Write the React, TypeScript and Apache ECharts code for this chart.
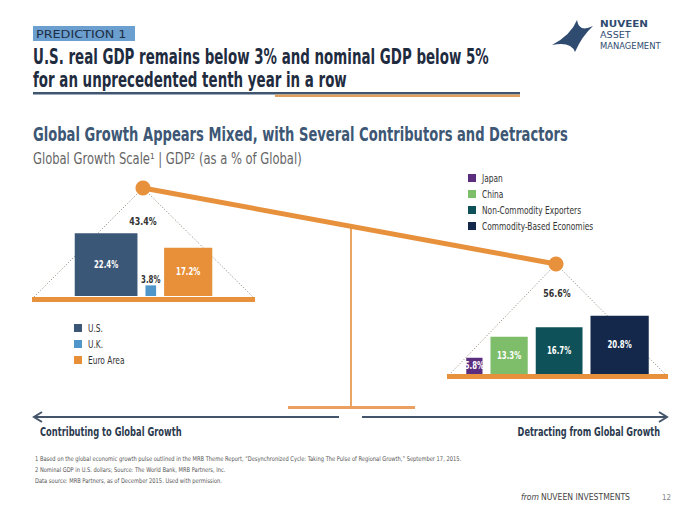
import React, { useEffect, useRef } from "react";
import * as echarts from "echarts";

const leftCategories = ["U.S.", "U.K.", "Euro Area"];
const leftValues = [22.4, 3.8, 17.2];
const leftColors = ["#3B5777", "#4F97CB", "#E88F3A"];

const rightCategories = ["Japan", "China", "Non-Commodity Exporters", "Commodity-Based Economies"];
const rightValues = [5.8, 13.3, 16.7, 20.8];
const rightColors = ["#5A2D7E", "#7EBE6A", "#0E5158", "#13284A"];

const footnotes = [
  "1 Based on the global economic growth pulse outlined in the MRB Theme Report, \u201cDesynchronized Cycle: Taking The Pulse of Regional Growth,\u201d September 17, 2015.",
  "2 Nominal GDP in U.S. dollars; Source: The World Bank, MRB Partners, Inc.",
  "Data source: MRB Partners, as of December 2015. Used with permission.",
];

const COND = "'DejaVu Sans', sans-serif";
const ORANGE = "#E8913C";

const LOGO_D = "M25 0 Q27 13 41 6 Q30 16 23 32 Q19 21 0 25 Q19 15 25 0 Z";
echarts.graphic.registerShape("logo", echarts.graphic.extendPath(LOGO_D, {}) as any);

function sum(a: number[]) {
  return a.reduce((s, v) => s + v, 0);
}

function txt(text: string, x: number, y: number, o: any = {}) {
  return {
    type: "text",
    x,
    y,
    scaleX: o.sx ?? 1,
    style: {
      text,
      x: 0,
      y: 0,
      align: o.align ?? "left",
      verticalAlign: "middle",
      fill: o.fill ?? "#333",
      fontSize: o.size ?? 11,
      fontWeight: o.weight ?? "normal",
      fontStyle: o.style ?? "normal",
      fontFamily: COND,
    },
  };
}

function makeRenderItem(values: number[], colors: string[]) {
  return (params: any, api: any) => {
    const i = params.dataIndex;
    const cs = params.coordSys;
    const sizes = values.map((v) => api.size([0, v])[1]);
    const gap = 8;
    const total = sum(sizes) + gap * (values.length - 1);
    let x = cs.x + cs.width / 2 - total / 2;
    for (let k = 0; k < i; k++) x += sizes[k] + gap;
    const s = api.size([0, api.value(1)])[1];
    const bottom = cs.y + cs.height;
    const small = s < 14;
    return {
      type: "group",
      children: [
        {
          type: "rect",
          shape: { x, y: bottom - s, width: s, height: s },
          style: { fill: colors[i] },
        },
        {
          type: "text",
          x: x + s / 2,
          y: small ? bottom - s - 1 : bottom - s / 2,
          scaleX: 0.7,
          style: {
            text: values[i].toFixed(1) + "%",
            x: 0,
            y: 0,
            align: "center",
            verticalAlign: small ? "bottom" : "middle",
            fill: small ? "#333" : "#fff",
            fontSize: 10,
            fontWeight: "bold",
            fontFamily: COND,
          },
        },
      ],
    };
  };
}

function legend(cats: string[], colors: string[], x: number, y0: number, step: number) {
  const out: any[] = [];
  cats.forEach((c, i) => {
    out.push({
      type: "rect",
      shape: { x, y: y0 + i * step - 4, width: 8, height: 8 },
      style: { fill: colors[i] },
    });
    out.push(txt(c, x + 14, y0 + i * step, { size: 11, sx: 0.68, fill: "#333" }));
  });
  return out;
}

export default function App() {
  const ref = useRef<HTMLDivElement>(null);
  useEffect(() => {
    const chart = echarts.init(ref.current!, undefined, { renderer: "svg" });
    const L = { x: 143, y: 188 };
    const R = { x: 556, y: 264 };
    const poleX = 351;
    const poleTop = L.y + ((poleX - L.x) * (R.y - L.y)) / (R.x - L.x);
    const dotted = { stroke: "#8A7A66", lineWidth: 1, lineDash: [1, 2] };
    const graphic: any[] = [
      // header
      { type: "rect", shape: { x: 33, y: 26, width: 102, height: 15 }, style: { fill: "#6A9FCF" } },
      txt("PREDICTION 1", 36, 34, { size: 11, sx: 1.16, fill: "#1E2E44" }),
      txt("U.S. real GDP remains below 3% and nominal GDP below 5%", 33, 57, { size: 20.5, weight: "bold", sx: 0.655, fill: "#1F2C40" }),
      txt("for an unprecedented tenth year in a row", 33, 80, { size: 20.5, weight: "bold", sx: 0.655, fill: "#1F2C40" }),
      { type: "rect", shape: { x: 33, y: 92, width: 487, height: 2.5 }, style: { fill: "#3F5671" } },
      { type: "rect", shape: { x: 275, y: 94.5, width: 245, height: 2.5 }, style: { fill: "#DDA060" } },
      // logo
      { type: "logo", x: 552, y: 20, scaleX: 1, scaleY: 1, style: { fill: "#2F4B70" } },
      txt("NUVEEN", 600, 24, { size: 8, weight: "bold", sx: 1.3, fill: "#2F4B70" }),
      txt("ASSET", 600, 35, { size: 8, sx: 1.2, fill: "#2F4B70" }),
      txt("MANAGEMENT", 600, 46, { size: 8, sx: 1.05, fill: "#2F4B70" }),
      // section titles
      txt("Global Growth Appears Mixed, with Several Contributors and Detractors", 33, 135, { size: 19, weight: "bold", sx: 0.69, fill: "#3D5775" }),
      txt("Global Growth Scale\u00b9 | GDP\u00b2 (as a % of Global)", 33, 159, { size: 15, sx: 0.77, fill: "#666" }),
      // dotted strings
      { type: "line", shape: { x1: L.x, y1: L.y, x2: 33, y2: 298 }, style: dotted },
      { type: "line", shape: { x1: L.x, y1: L.y, x2: 254, y2: 298 }, style: dotted },
      { type: "line", shape: { x1: R.x, y1: R.y, x2: 449, y2: 375 }, style: dotted },
      { type: "line", shape: { x1: R.x, y1: R.y, x2: 666, y2: 375 }, style: dotted },
      // pole & base
      { type: "line", shape: { x1: poleX, y1: poleTop, x2: poleX, y2: 407 }, style: { stroke: "#E9A564", lineWidth: 2 } },
      { type: "line", shape: { x1: 288, y1: 407.5, x2: 415, y2: 407.5 }, style: { stroke: "#E9A060", lineWidth: 3 } },
      // beam
      { type: "line", shape: { x1: L.x, y1: L.y, x2: R.x, y2: R.y }, style: { stroke: ORANGE, lineWidth: 5 } },
      { type: "circle", shape: { cx: L.x, cy: L.y, r: 7.5 }, style: { fill: ORANGE } },
      { type: "circle", shape: { cx: R.x, cy: R.y, r: 7.5 }, style: { fill: ORANGE } },
      // pans
      { type: "rect", shape: { x: 32, y: 297, width: 223, height: 5 }, style: { fill: ORANGE } },
      { type: "rect", shape: { x: 447, y: 374, width: 221, height: 5 }, style: { fill: ORANGE } },
      // totals
      txt(sum(leftValues).toFixed(1) + "%", L.x, 221, { size: 11, weight: "bold", sx: 0.72, align: "center", fill: "#333" }),
      txt(sum(rightValues).toFixed(1) + "%", R.x + 1, 293, { size: 11, weight: "bold", sx: 0.72, align: "center", fill: "#333" }),
      // arrows
      { type: "line", shape: { x1: 35, y1: 417, x2: 339, y2: 417 }, style: { stroke: "#44546A", lineWidth: 2 } },
      { type: "polyline", shape: { points: [[42, 412], [34, 417], [42, 422]] }, style: { stroke: "#44546A", lineWidth: 2, fill: null } },
      { type: "line", shape: { x1: 362, y1: 417, x2: 666, y2: 417 }, style: { stroke: "#44546A", lineWidth: 2 } },
      { type: "polyline", shape: { points: [[659, 412], [667, 417], [659, 422]] }, style: { stroke: "#44546A", lineWidth: 2, fill: null } },
      txt("Contributing to Global Growth", 40, 432, { size: 13, weight: "bold", sx: 0.64, fill: "#2B3A4E" }),
      txt("Detracting from Global Growth", 660, 432, { size: 13, weight: "bold", sx: 0.63, align: "right", fill: "#2B3A4E" }),
      // footer
      txt("from", 521, 497, { size: 9, style: "italic", sx: 0.85, fill: "#444" }),
      txt("NUVEEN INVESTMENTS", 541, 497, { size: 9.5, sx: 0.81, fill: "#444" }),
      txt("12", 662, 497, { size: 8, sx: 0.9, fill: "#888" }),
      ...footnotes.map((t, i) => txt(t, 35, 459 + i * 11, { size: 6.5, sx: 0.79, fill: "#555" })),
      ...legend(rightCategories, rightColors, 468, 178, 16),
      ...legend(leftCategories, leftColors, 74, 328, 16),
    ];

    chart.setOption({
      animation: false,
      backgroundColor: "#fff",
      grid: [
        { left: 32, top: 184, width: 223, height: 112 },
        { left: 447, top: 262, width: 221, height: 112 },
      ],
      xAxis: [
        { type: "value", gridIndex: 0, min: 0, max: 3, show: false },
        { type: "value", gridIndex: 1, min: 0, max: 4, show: false },
      ],
      yAxis: [
        { type: "value", gridIndex: 0, min: 0, max: 40, show: false },
        { type: "value", gridIndex: 1, min: 0, max: 40, show: false },
      ],
      graphic,
      series: [
        {
          type: "custom",
          xAxisIndex: 0,
          yAxisIndex: 0,
          renderItem: makeRenderItem(leftValues, leftColors),
          data: leftValues.map((v, i) => [i, v]),
          z: 5,
        },
        {
          type: "custom",
          xAxisIndex: 1,
          yAxisIndex: 1,
          renderItem: makeRenderItem(rightValues, rightColors),
          data: rightValues.map((v, i) => [i, v]),
          z: 5,
        },
      ],
    });
    return () => chart.dispose();
  }, []);
  return <div ref={ref} style={{ position: "fixed", left: 0, top: 0, width: 700, height: 525 }} />;
}
